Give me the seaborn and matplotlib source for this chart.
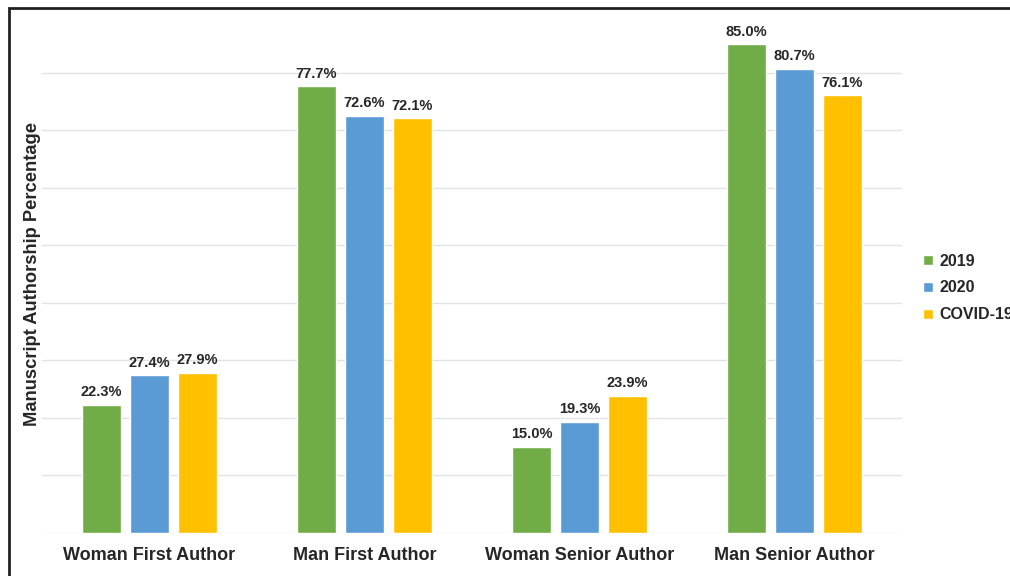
import pandas as pd
import seaborn as sns
import matplotlib.pyplot as plt
from matplotlib.patches import Rectangle

categories = ["Woman First Author", "Man First Author", "Woman Senior Author", "Man Senior Author"]
years = ["2019", "2020", "COVID-19"]
v2019 = [22.3, 77.7, 15.0, 85.0]
v2020 = [27.4, 72.6, 19.3, 80.7]
vcovid = [27.9, 72.1, 23.9, 76.1]
colors = ["#70AD47", "#5B9BD5", "#FFC000"]

df = pd.DataFrame({
    "category": categories * 3,
    "year": [years[0]] * 4 + [years[1]] * 4 + [years[2]] * 4,
    "value": v2019 + v2020 + vcovid,
})

sns.set_style("white")
plt.rcParams["font.family"] = ["Liberation Sans", "DejaVu Sans"]

fig = plt.figure(figsize=(10.1, 5.76), dpi=100)
ax = fig.add_axes([0.0416, 0.0747, 0.8515, 0.8984])

sns.barplot(data=df, x="category", y="value", hue="year", palette=colors,
            width=0.67, gap=0.2, ax=ax, errorbar=None, saturation=1)

for c in ax.containers:
    ax.bar_label(c, fmt="%.1f%%", padding=4, fontsize=10.5, fontweight="bold")

ax.set_ylim(0, 90)
ax.set_xlim(-0.5, 3.5)
ax.set_yticks(range(0, 90, 10))
ax.set_yticklabels([])
ax.tick_params(axis="y", length=0)
ax.tick_params(axis="x", length=0, pad=10, labelsize=13)
for lbl in ax.get_xticklabels():
    lbl.set_fontweight("bold")
ax.grid(axis="y", color="#e3e3e3", linewidth=1)
ax.set_axisbelow(True)
for s in ax.spines.values():
    s.set_visible(False)
ax.set_xlabel("")
ax.set_ylabel("Manuscript Authorship Percentage", fontsize=13.2, fontweight="bold", labelpad=-3)

ax.legend(loc="center left", bbox_to_anchor=(0.9, 0.50), bbox_transform=fig.transFigure,
          frameon=False, prop={"weight": "bold", "size": 11.5}, handlelength=0.6,
          handleheight=0.6, handletextpad=0.4, labelspacing=0.75)

fig.patches.append(Rectangle((0.009, -0.1), 1.2, 1.086, transform=fig.transFigure,
                             fill=False, edgecolor="#222222", linewidth=2))

fig.savefig("out.png", dpi=100)
